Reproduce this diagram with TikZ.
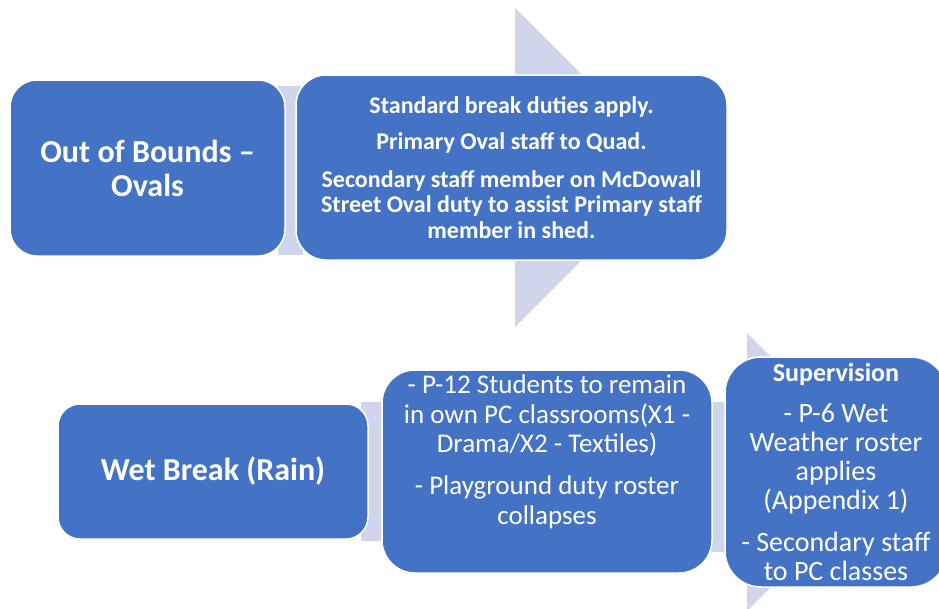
\documentclass[tikz,border=0pt]{standalone}
\usepackage{fontspec}
\setmainfont{Carlito}
\usetikzlibrary{backgrounds,calc}
\definecolor{boxblue}{HTML}{4472C4}
\definecolor{lavender}{HTML}{CFD5EA}
\begin{document}
\begin{tikzpicture}[x=1pt,y=-1pt,
	blk/.style={rectangle,fill=boxblue,draw=white,line width=1.5pt,text=white,align=center,inner sep=0pt},
	head/.style={font=\bfseries\fontsize{32}{34}\selectfont},
	link/.style={fill=lavender}]
			\useasboundingbox (0,0) rectangle (939,608);
			\node[blk,head,rounded corners=27pt,minimum width=275pt,minimum height=176pt](oob) at (147.5,168) {Out of Bounds --\\Ovals};
			\node[blk,font=\bfseries\fontsize{24}{25.5}\selectfont,rounded corners=30pt,minimum width=431pt,minimum height=185pt](std) at (511.5,167.5) {Standard break duties apply.\\[10.5pt]Primary Oval staff to Quad.\\[12pt]Secondary staff member on McDowall\\Street Oval duty to assist Primary staff\\member in shed.};
			\node[blk,head,rounded corners=22pt,minimum width=310pt,minimum height=135pt](wet) at (213,471.5) {Wet Break (Rain)};
			\node[blk,rounded corners=33pt,minimum width=330pt,minimum height=203pt](stay) at (547,471.5) {\parbox[c][193pt][t]{326pt}{\centering\fontsize{27}{29.5}\selectfont - P-12 Students to remain\\in own PC classrooms(X1 -\\Drama/X2 - Textiles)\\[12.5pt]- Playground duty roster\\collapses}};
			\node[blk,font=\fontsize{28}{29}\selectfont,rounded corners=36pt,minimum width=222pt,minimum height=230pt](sup) at (836,472) {\textbf{\fontsize{26}{29}\selectfont Supervision}\\[12pt]- P-6 Wet\\Weather roster\\applies\\(Appendix 1)\\[12.5pt]- Secondary staff\\to PC classes};
			\begin{scope}[on background layer]
			\fill[link] ($(std.center)+(3.5,-159.5)$) -- ($(std.center)+(163,0)$) -- ($(std.center)+(3.5,159.5)$) -- cycle;
			\fill[link] ($(sup.center)+(-89,-139)$) -- ($(sup.center)+(50,0)$) -- ($(sup.center)+(-89,139)$) -- cycle;
			\fill[link] ($(oob.north east)+(-8,7)$) rectangle ($(std.west|-oob.south)+(8,-2)$);
			\fill[link] ($(wet.north east)+(-8,-1)$) rectangle ($(stay.west|-wet.south)+(8,1)$);
			\fill[link] ($(stay.east)+(-8,-70)$) rectangle ($(sup.west)+(8,80)$);
			\end{scope}
\end{tikzpicture}
\end{document}
